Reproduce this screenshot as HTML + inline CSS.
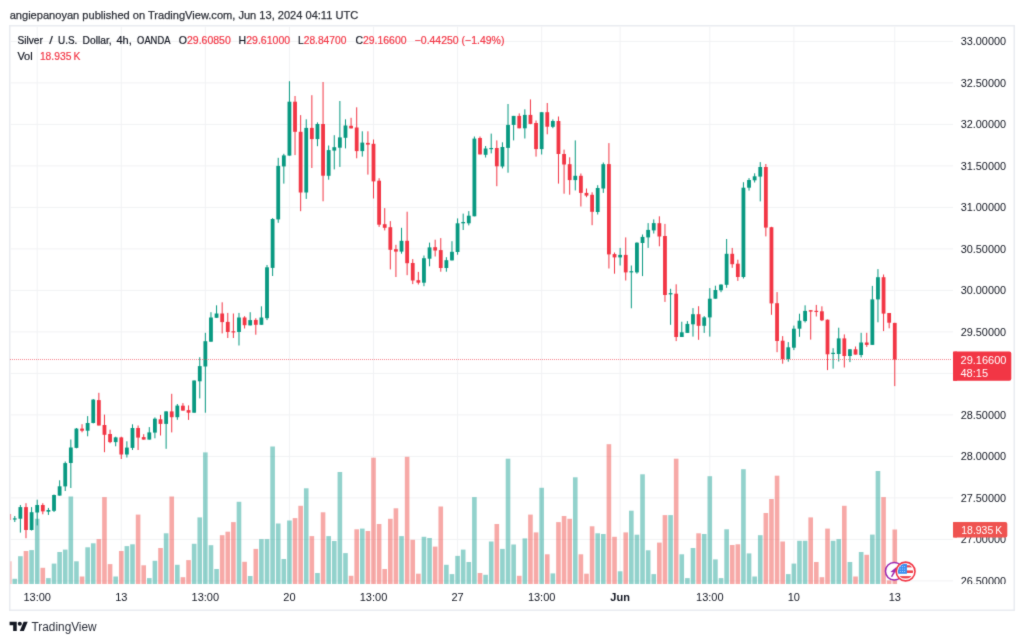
<!DOCTYPE html><html><head><meta charset="utf-8"><title>Silver / U.S. Dollar 4h chart</title>
<style>html,body{margin:0;padding:0;background:#fff;}body{width:1024px;height:643px;overflow:hidden;}svg{display:block;font-family:"Liberation Sans",Arial,sans-serif;}</style></head><body>
<svg width="1024" height="643" viewBox="0 0 1024 643">
<defs><filter id="soft" x="0" y="0" width="1" height="1" color-interpolation-filters="sRGB"><feConvolveMatrix order="3" kernelMatrix="0.0200 0.0800 0.0200 0.0800 0.6000 0.0800 0.0200 0.0800 0.0200" edgeMode="duplicate" preserveAlpha="true"/></filter></defs>
<g filter="url(#soft)">
<rect width="1024" height="643" fill="#fff"/>
<text x="9.7" y="18.9" font-size="11.5" fill="#2c2f37" stroke="#2c2f37" stroke-width="0.25" textLength="348.5" lengthAdjust="spacingAndGlyphs">angiepanoyan published on TradingView.com, Jun 13, 2024 04:11 UTC</text>
<rect x="9.75" y="25.75" width="1004.5" height="584.5" fill="none" stroke="#e9ebf0" stroke-width="1.5"/>
<defs><clipPath id="pane"><rect x="10.5" y="26.5" width="942.5" height="557.5"/></clipPath></defs>
<g stroke="#f1f2f4" stroke-width="1" fill="none">
<line x1="10.5" x2="953" y1="41.4" y2="41.4"/>
<line x1="10.5" x2="953" y1="82.9" y2="82.9"/>
<line x1="10.5" x2="953" y1="124.4" y2="124.4"/>
<line x1="10.5" x2="953" y1="165.9" y2="165.9"/>
<line x1="10.5" x2="953" y1="207.4" y2="207.4"/>
<line x1="10.5" x2="953" y1="248.9" y2="248.9"/>
<line x1="10.5" x2="953" y1="290.4" y2="290.4"/>
<line x1="10.5" x2="953" y1="331.9" y2="331.9"/>
<line x1="10.5" x2="953" y1="373.4" y2="373.4"/>
<line x1="10.5" x2="953" y1="414.9" y2="414.9"/>
<line x1="10.5" x2="953" y1="456.4" y2="456.4"/>
<line x1="10.5" x2="953" y1="497.9" y2="497.9"/>
<line x1="10.5" x2="953" y1="539.4" y2="539.4"/>
<line x1="10.5" x2="953" y1="580.9" y2="580.9"/>
<line x1="37.2" x2="37.2" y1="26.5" y2="584"/>
<line x1="121.28" x2="121.28" y1="26.5" y2="584"/>
<line x1="205.35" x2="205.35" y1="26.5" y2="584"/>
<line x1="289.43" x2="289.43" y1="26.5" y2="584"/>
<line x1="373.5" x2="373.5" y1="26.5" y2="584"/>
<line x1="457.58" x2="457.58" y1="26.5" y2="584"/>
<line x1="541.65" x2="541.65" y1="26.5" y2="584"/>
<line x1="620.12" x2="620.12" y1="26.5" y2="584"/>
<line x1="709.8" x2="709.8" y1="26.5" y2="584"/>
<line x1="793.88" x2="793.88" y1="26.5" y2="584"/>
<line x1="894.76" x2="894.76" y1="26.5" y2="584"/>
</g>
<g clip-path="url(#pane)">
<g>
<rect x="6.87" y="561.3" width="4.6" height="22.7" fill="rgba(239,83,80,0.5)"/>
<rect x="12.48" y="578.8" width="4.6" height="5.2" fill="rgba(38,166,154,0.5)"/>
<rect x="18.08" y="556.2" width="4.6" height="27.8" fill="rgba(38,166,154,0.5)"/>
<rect x="23.69" y="551" width="4.6" height="33" fill="rgba(239,83,80,0.5)"/>
<rect x="29.29" y="550.1" width="4.6" height="33.9" fill="rgba(38,166,154,0.5)"/>
<rect x="34.9" y="518.8" width="4.6" height="65.2" fill="rgba(38,166,154,0.5)"/>
<rect x="40.51" y="567.8" width="4.6" height="16.2" fill="rgba(239,83,80,0.5)"/>
<rect x="46.11" y="578.1" width="4.6" height="5.9" fill="rgba(38,166,154,0.5)"/>
<rect x="51.72" y="563.6" width="4.6" height="20.4" fill="rgba(38,166,154,0.5)"/>
<rect x="57.32" y="552" width="4.6" height="32" fill="rgba(38,166,154,0.5)"/>
<rect x="62.93" y="549.6" width="4.6" height="34.4" fill="rgba(38,166,154,0.5)"/>
<rect x="68.53" y="496.5" width="4.6" height="87.5" fill="rgba(38,166,154,0.5)"/>
<rect x="74.14" y="561.3" width="4.6" height="22.7" fill="rgba(38,166,154,0.5)"/>
<rect x="79.74" y="576.5" width="4.6" height="7.5" fill="rgba(239,83,80,0.5)"/>
<rect x="85.34" y="547.3" width="4.6" height="36.7" fill="rgba(38,166,154,0.5)"/>
<rect x="90.95" y="543.3" width="4.6" height="40.7" fill="rgba(38,166,154,0.5)"/>
<rect x="96.56" y="539.1" width="4.6" height="44.9" fill="rgba(239,83,80,0.5)"/>
<rect x="102.16" y="497.1" width="4.6" height="86.9" fill="rgba(239,83,80,0.5)"/>
<rect x="107.77" y="564.1" width="4.6" height="19.9" fill="rgba(239,83,80,0.5)"/>
<rect x="113.37" y="576.5" width="4.6" height="7.5" fill="rgba(38,166,154,0.5)"/>
<rect x="118.98" y="551" width="4.6" height="33" fill="rgba(239,83,80,0.5)"/>
<rect x="124.58" y="546.1" width="4.6" height="37.9" fill="rgba(38,166,154,0.5)"/>
<rect x="130.19" y="544.3" width="4.6" height="39.7" fill="rgba(38,166,154,0.5)"/>
<rect x="135.79" y="514.6" width="4.6" height="69.4" fill="rgba(239,83,80,0.5)"/>
<rect x="141.4" y="565.3" width="4.6" height="18.7" fill="rgba(239,83,80,0.5)"/>
<rect x="147" y="578.1" width="4.6" height="5.9" fill="rgba(38,166,154,0.5)"/>
<rect x="152.61" y="560.8" width="4.6" height="23.2" fill="rgba(38,166,154,0.5)"/>
<rect x="158.21" y="548" width="4.6" height="36" fill="rgba(239,83,80,0.5)"/>
<rect x="163.81" y="533.3" width="4.6" height="50.7" fill="rgba(38,166,154,0.5)"/>
<rect x="169.42" y="496.5" width="4.6" height="87.5" fill="rgba(239,83,80,0.5)"/>
<rect x="175.03" y="564.8" width="4.6" height="19.2" fill="rgba(38,166,154,0.5)"/>
<rect x="180.63" y="577.2" width="4.6" height="6.8" fill="rgba(239,83,80,0.5)"/>
<rect x="186.24" y="560.1" width="4.6" height="23.9" fill="rgba(239,83,80,0.5)"/>
<rect x="191.84" y="543.8" width="4.6" height="40.2" fill="rgba(38,166,154,0.5)"/>
<rect x="197.45" y="517.4" width="4.6" height="66.6" fill="rgba(38,166,154,0.5)"/>
<rect x="203.05" y="452.4" width="4.6" height="131.6" fill="rgba(38,166,154,0.5)"/>
<rect x="208.66" y="545.2" width="4.6" height="38.8" fill="rgba(38,166,154,0.5)"/>
<rect x="214.26" y="569" width="4.6" height="15" fill="rgba(38,166,154,0.5)"/>
<rect x="219.87" y="535.2" width="4.6" height="48.8" fill="rgba(239,83,80,0.5)"/>
<rect x="225.47" y="531.7" width="4.6" height="52.3" fill="rgba(239,83,80,0.5)"/>
<rect x="231.08" y="522.1" width="4.6" height="61.9" fill="rgba(239,83,80,0.5)"/>
<rect x="236.68" y="501.8" width="4.6" height="82.2" fill="rgba(38,166,154,0.5)"/>
<rect x="242.29" y="561.8" width="4.6" height="22.2" fill="rgba(239,83,80,0.5)"/>
<rect x="247.89" y="576" width="4.6" height="8" fill="rgba(38,166,154,0.5)"/>
<rect x="253.5" y="548.9" width="4.6" height="35.1" fill="rgba(239,83,80,0.5)"/>
<rect x="259.1" y="539.1" width="4.6" height="44.9" fill="rgba(38,166,154,0.5)"/>
<rect x="264.71" y="539.1" width="4.6" height="44.9" fill="rgba(38,166,154,0.5)"/>
<rect x="270.31" y="446.5" width="4.6" height="137.5" fill="rgba(38,166,154,0.5)"/>
<rect x="275.92" y="523.5" width="4.6" height="60.5" fill="rgba(38,166,154,0.5)"/>
<rect x="281.52" y="559" width="4.6" height="25" fill="rgba(38,166,154,0.5)"/>
<rect x="287.12" y="520.5" width="4.6" height="63.5" fill="rgba(38,166,154,0.5)"/>
<rect x="292.73" y="518.1" width="4.6" height="65.9" fill="rgba(239,83,80,0.5)"/>
<rect x="298.34" y="505.8" width="4.6" height="78.2" fill="rgba(239,83,80,0.5)"/>
<rect x="303.94" y="488.3" width="4.6" height="95.7" fill="rgba(38,166,154,0.5)"/>
<rect x="309.55" y="536.1" width="4.6" height="47.9" fill="rgba(239,83,80,0.5)"/>
<rect x="315.15" y="573" width="4.6" height="11" fill="rgba(38,166,154,0.5)"/>
<rect x="320.75" y="512.3" width="4.6" height="71.7" fill="rgba(239,83,80,0.5)"/>
<rect x="326.36" y="536.1" width="4.6" height="47.9" fill="rgba(38,166,154,0.5)"/>
<rect x="331.97" y="541" width="4.6" height="43" fill="rgba(38,166,154,0.5)"/>
<rect x="337.57" y="472" width="4.6" height="112" fill="rgba(38,166,154,0.5)"/>
<rect x="343.18" y="553.1" width="4.6" height="30.9" fill="rgba(38,166,154,0.5)"/>
<rect x="348.78" y="575.8" width="4.6" height="8.2" fill="rgba(239,83,80,0.5)"/>
<rect x="354.39" y="529.3" width="4.6" height="54.7" fill="rgba(239,83,80,0.5)"/>
<rect x="359.99" y="528.6" width="4.6" height="55.4" fill="rgba(38,166,154,0.5)"/>
<rect x="365.6" y="531" width="4.6" height="53" fill="rgba(239,83,80,0.5)"/>
<rect x="371.2" y="457.7" width="4.6" height="126.3" fill="rgba(239,83,80,0.5)"/>
<rect x="376.81" y="524" width="4.6" height="60" fill="rgba(239,83,80,0.5)"/>
<rect x="382.41" y="569" width="4.6" height="15" fill="rgba(239,83,80,0.5)"/>
<rect x="388.02" y="518.8" width="4.6" height="65.2" fill="rgba(239,83,80,0.5)"/>
<rect x="393.62" y="508.3" width="4.6" height="75.7" fill="rgba(239,83,80,0.5)"/>
<rect x="399.23" y="536.1" width="4.6" height="47.9" fill="rgba(38,166,154,0.5)"/>
<rect x="404.83" y="456.8" width="4.6" height="127.2" fill="rgba(239,83,80,0.5)"/>
<rect x="410.44" y="539.8" width="4.6" height="44.2" fill="rgba(239,83,80,0.5)"/>
<rect x="416.04" y="573.7" width="4.6" height="10.3" fill="rgba(239,83,80,0.5)"/>
<rect x="421.65" y="536.8" width="4.6" height="47.2" fill="rgba(38,166,154,0.5)"/>
<rect x="427.25" y="538" width="4.6" height="46" fill="rgba(38,166,154,0.5)"/>
<rect x="432.86" y="546.6" width="4.6" height="37.4" fill="rgba(239,83,80,0.5)"/>
<rect x="438.46" y="506.5" width="4.6" height="77.5" fill="rgba(239,83,80,0.5)"/>
<rect x="444.07" y="564.8" width="4.6" height="19.2" fill="rgba(38,166,154,0.5)"/>
<rect x="449.67" y="574.1" width="4.6" height="9.9" fill="rgba(38,166,154,0.5)"/>
<rect x="455.28" y="555.9" width="4.6" height="28.1" fill="rgba(38,166,154,0.5)"/>
<rect x="460.88" y="549.6" width="4.6" height="34.4" fill="rgba(38,166,154,0.5)"/>
<rect x="466.49" y="562" width="4.6" height="22" fill="rgba(38,166,154,0.5)"/>
<rect x="472.09" y="497.1" width="4.6" height="86.9" fill="rgba(38,166,154,0.5)"/>
<rect x="477.7" y="573" width="4.6" height="11" fill="rgba(239,83,80,0.5)"/>
<rect x="483.3" y="574.8" width="4.6" height="9.2" fill="rgba(38,166,154,0.5)"/>
<rect x="488.91" y="541.5" width="4.6" height="42.5" fill="rgba(38,166,154,0.5)"/>
<rect x="494.51" y="524" width="4.6" height="60" fill="rgba(239,83,80,0.5)"/>
<rect x="500.12" y="548.9" width="4.6" height="35.1" fill="rgba(38,166,154,0.5)"/>
<rect x="505.72" y="458.7" width="4.6" height="125.3" fill="rgba(38,166,154,0.5)"/>
<rect x="511.32" y="544.5" width="4.6" height="39.5" fill="rgba(38,166,154,0.5)"/>
<rect x="516.93" y="575.8" width="4.6" height="8.2" fill="rgba(239,83,80,0.5)"/>
<rect x="522.54" y="538.4" width="4.6" height="45.6" fill="rgba(38,166,154,0.5)"/>
<rect x="528.14" y="514.6" width="4.6" height="69.4" fill="rgba(239,83,80,0.5)"/>
<rect x="533.75" y="532.4" width="4.6" height="51.6" fill="rgba(239,83,80,0.5)"/>
<rect x="539.35" y="487.8" width="4.6" height="96.2" fill="rgba(38,166,154,0.5)"/>
<rect x="544.96" y="554.3" width="4.6" height="29.7" fill="rgba(239,83,80,0.5)"/>
<rect x="550.56" y="573.4" width="4.6" height="10.6" fill="rgba(38,166,154,0.5)"/>
<rect x="556.17" y="522.1" width="4.6" height="61.9" fill="rgba(239,83,80,0.5)"/>
<rect x="561.77" y="516" width="4.6" height="68" fill="rgba(239,83,80,0.5)"/>
<rect x="567.38" y="518.8" width="4.6" height="65.2" fill="rgba(239,83,80,0.5)"/>
<rect x="572.98" y="477.3" width="4.6" height="106.7" fill="rgba(38,166,154,0.5)"/>
<rect x="578.59" y="554.3" width="4.6" height="29.7" fill="rgba(239,83,80,0.5)"/>
<rect x="584.19" y="573.7" width="4.6" height="10.3" fill="rgba(239,83,80,0.5)"/>
<rect x="589.8" y="526.3" width="4.6" height="57.7" fill="rgba(239,83,80,0.5)"/>
<rect x="595.4" y="533.3" width="4.6" height="50.7" fill="rgba(38,166,154,0.5)"/>
<rect x="601" y="534" width="4.6" height="50" fill="rgba(38,166,154,0.5)"/>
<rect x="606.61" y="444.2" width="4.6" height="139.8" fill="rgba(239,83,80,0.5)"/>
<rect x="612.22" y="536.8" width="4.6" height="47.2" fill="rgba(239,83,80,0.5)"/>
<rect x="617.82" y="571.3" width="4.6" height="12.7" fill="rgba(38,166,154,0.5)"/>
<rect x="623.43" y="532.4" width="4.6" height="51.6" fill="rgba(239,83,80,0.5)"/>
<rect x="629.03" y="510.7" width="4.6" height="73.3" fill="rgba(38,166,154,0.5)"/>
<rect x="634.63" y="534.7" width="4.6" height="49.3" fill="rgba(38,166,154,0.5)"/>
<rect x="640.24" y="474.3" width="4.6" height="109.7" fill="rgba(38,166,154,0.5)"/>
<rect x="645.85" y="550.3" width="4.6" height="33.7" fill="rgba(38,166,154,0.5)"/>
<rect x="651.45" y="574.1" width="4.6" height="9.9" fill="rgba(38,166,154,0.5)"/>
<rect x="657.06" y="542.6" width="4.6" height="41.4" fill="rgba(239,83,80,0.5)"/>
<rect x="662.66" y="515.1" width="4.6" height="68.9" fill="rgba(239,83,80,0.5)"/>
<rect x="668.27" y="515.1" width="4.6" height="68.9" fill="rgba(38,166,154,0.5)"/>
<rect x="673.87" y="458.7" width="4.6" height="125.3" fill="rgba(239,83,80,0.5)"/>
<rect x="679.48" y="554.3" width="4.6" height="29.7" fill="rgba(38,166,154,0.5)"/>
<rect x="685.08" y="578.1" width="4.6" height="5.9" fill="rgba(38,166,154,0.5)"/>
<rect x="690.69" y="548" width="4.6" height="36" fill="rgba(38,166,154,0.5)"/>
<rect x="696.29" y="533.3" width="4.6" height="50.7" fill="rgba(239,83,80,0.5)"/>
<rect x="701.9" y="534" width="4.6" height="50" fill="rgba(38,166,154,0.5)"/>
<rect x="707.5" y="476.2" width="4.6" height="107.8" fill="rgba(38,166,154,0.5)"/>
<rect x="713.11" y="559.4" width="4.6" height="24.6" fill="rgba(38,166,154,0.5)"/>
<rect x="718.71" y="578.1" width="4.6" height="5.9" fill="rgba(38,166,154,0.5)"/>
<rect x="724.32" y="529.3" width="4.6" height="54.7" fill="rgba(38,166,154,0.5)"/>
<rect x="729.92" y="545" width="4.6" height="39" fill="rgba(239,83,80,0.5)"/>
<rect x="735.53" y="544.3" width="4.6" height="39.7" fill="rgba(239,83,80,0.5)"/>
<rect x="741.13" y="469.2" width="4.6" height="114.8" fill="rgba(38,166,154,0.5)"/>
<rect x="746.74" y="553.4" width="4.6" height="30.6" fill="rgba(38,166,154,0.5)"/>
<rect x="752.34" y="576.5" width="4.6" height="7.5" fill="rgba(38,166,154,0.5)"/>
<rect x="757.95" y="535.2" width="4.6" height="48.8" fill="rgba(38,166,154,0.5)"/>
<rect x="763.55" y="513" width="4.6" height="71" fill="rgba(239,83,80,0.5)"/>
<rect x="769.16" y="499" width="4.6" height="85" fill="rgba(239,83,80,0.5)"/>
<rect x="774.76" y="475.7" width="4.6" height="108.3" fill="rgba(239,83,80,0.5)"/>
<rect x="780.37" y="541.5" width="4.6" height="42.5" fill="rgba(239,83,80,0.5)"/>
<rect x="785.97" y="574.1" width="4.6" height="9.9" fill="rgba(38,166,154,0.5)"/>
<rect x="791.58" y="563.6" width="4.6" height="20.4" fill="rgba(38,166,154,0.5)"/>
<rect x="797.18" y="540.8" width="4.6" height="43.2" fill="rgba(38,166,154,0.5)"/>
<rect x="802.79" y="540.8" width="4.6" height="43.2" fill="rgba(38,166,154,0.5)"/>
<rect x="808.39" y="517.4" width="4.6" height="66.6" fill="rgba(239,83,80,0.5)"/>
<rect x="814" y="562" width="4.6" height="22" fill="rgba(239,83,80,0.5)"/>
<rect x="819.6" y="577.2" width="4.6" height="6.8" fill="rgba(239,83,80,0.5)"/>
<rect x="825.21" y="528.6" width="4.6" height="55.4" fill="rgba(239,83,80,0.5)"/>
<rect x="830.81" y="540.8" width="4.6" height="43.2" fill="rgba(38,166,154,0.5)"/>
<rect x="836.42" y="539.1" width="4.6" height="44.9" fill="rgba(38,166,154,0.5)"/>
<rect x="842.02" y="505.8" width="4.6" height="78.2" fill="rgba(239,83,80,0.5)"/>
<rect x="847.63" y="562" width="4.6" height="22" fill="rgba(38,166,154,0.5)"/>
<rect x="853.23" y="576.5" width="4.6" height="7.5" fill="rgba(239,83,80,0.5)"/>
<rect x="858.84" y="552" width="4.6" height="32" fill="rgba(38,166,154,0.5)"/>
<rect x="864.44" y="554.8" width="4.6" height="29.2" fill="rgba(239,83,80,0.5)"/>
<rect x="870.05" y="534.6" width="4.6" height="49.4" fill="rgba(38,166,154,0.5)"/>
<rect x="875.65" y="471" width="4.6" height="113" fill="rgba(38,166,154,0.5)"/>
<rect x="881.26" y="497.1" width="4.6" height="86.9" fill="rgba(239,83,80,0.5)"/>
<rect x="886.86" y="580.4" width="4.6" height="3.6" fill="rgba(239,83,80,0.5)"/>
<rect x="892.47" y="529.5" width="4.6" height="54.5" fill="rgba(239,83,80,0.5)"/>
</g>
<rect x="8.67" y="513" width="1" height="8" fill="#f23645"/>
<rect x="7.27" y="514" width="3.8" height="6" fill="#f23645"/>
<rect x="14.28" y="516" width="1" height="6" fill="#089981"/>
<rect x="12.88" y="518.35" width="3.8" height="1.2" fill="#089981"/>
<rect x="19.88" y="505" width="1" height="27.6" fill="#089981"/>
<rect x="18.48" y="507.1" width="3.8" height="11.6" fill="#089981"/>
<rect x="25.49" y="503.2" width="1" height="35" fill="#f23645"/>
<rect x="24.09" y="507.1" width="3.8" height="22.9" fill="#f23645"/>
<rect x="31.09" y="507.1" width="1" height="23.4" fill="#089981"/>
<rect x="29.7" y="512.2" width="3.8" height="17.8" fill="#089981"/>
<rect x="36.7" y="499.7" width="1" height="25.7" fill="#089981"/>
<rect x="35.3" y="505" width="3.8" height="7.5" fill="#089981"/>
<rect x="42.3" y="503.2" width="1" height="11.1" fill="#f23645"/>
<rect x="40.91" y="505" width="3.8" height="6.4" fill="#f23645"/>
<rect x="47.91" y="507.9" width="1" height="7" fill="#089981"/>
<rect x="46.51" y="510" width="3.8" height="1.7" fill="#089981"/>
<rect x="53.52" y="494.5" width="1" height="17.5" fill="#089981"/>
<rect x="52.12" y="495" width="3.8" height="15.8" fill="#089981"/>
<rect x="59.12" y="480.3" width="1" height="15.3" fill="#089981"/>
<rect x="57.72" y="486.3" width="3.8" height="9.3" fill="#089981"/>
<rect x="64.73" y="461.5" width="1" height="29.5" fill="#089981"/>
<rect x="63.33" y="463.1" width="3.8" height="23.3" fill="#089981"/>
<rect x="70.33" y="439.5" width="1" height="48.5" fill="#089981"/>
<rect x="68.93" y="447.5" width="3.8" height="15.5" fill="#089981"/>
<rect x="75.94" y="428" width="1" height="20.3" fill="#089981"/>
<rect x="74.53" y="428.6" width="3.8" height="19.3" fill="#089981"/>
<rect x="81.54" y="424.2" width="1" height="8.1" fill="#f23645"/>
<rect x="80.14" y="428.6" width="3.8" height="2.1" fill="#f23645"/>
<rect x="87.14" y="416.1" width="1" height="20.2" fill="#089981"/>
<rect x="85.74" y="423" width="3.8" height="7.7" fill="#089981"/>
<rect x="92.75" y="399" width="1" height="24.4" fill="#089981"/>
<rect x="91.35" y="399.6" width="3.8" height="23.4" fill="#089981"/>
<rect x="98.36" y="392.8" width="1" height="32.7" fill="#f23645"/>
<rect x="96.95" y="400.1" width="3.8" height="25.4" fill="#f23645"/>
<rect x="103.96" y="414.6" width="1" height="37.6" fill="#f23645"/>
<rect x="102.56" y="425" width="3.8" height="9.8" fill="#f23645"/>
<rect x="109.57" y="429.7" width="1" height="13.5" fill="#f23645"/>
<rect x="108.17" y="434" width="3.8" height="8.1" fill="#f23645"/>
<rect x="115.17" y="436.7" width="1" height="9.6" fill="#089981"/>
<rect x="113.77" y="437.4" width="3.8" height="4.7" fill="#089981"/>
<rect x="120.78" y="436.7" width="1" height="22.3" fill="#f23645"/>
<rect x="119.38" y="437.4" width="3.8" height="17.1" fill="#f23645"/>
<rect x="126.38" y="441.3" width="1" height="16.2" fill="#089981"/>
<rect x="124.98" y="447.6" width="3.8" height="6.9" fill="#089981"/>
<rect x="131.99" y="424.3" width="1" height="25.7" fill="#089981"/>
<rect x="130.59" y="428" width="3.8" height="19.9" fill="#089981"/>
<rect x="137.59" y="425.5" width="1" height="24.5" fill="#f23645"/>
<rect x="136.19" y="428" width="3.8" height="9.6" fill="#f23645"/>
<rect x="143.2" y="434.2" width="1" height="5.4" fill="#f23645"/>
<rect x="141.8" y="437.1" width="3.8" height="2.5" fill="#f23645"/>
<rect x="148.8" y="427.1" width="1" height="12.5" fill="#089981"/>
<rect x="147.4" y="432.4" width="3.8" height="7.2" fill="#089981"/>
<rect x="154.41" y="417.4" width="1" height="20.9" fill="#089981"/>
<rect x="153.01" y="418.7" width="3.8" height="13.9" fill="#089981"/>
<rect x="160.01" y="414.9" width="1" height="20.6" fill="#f23645"/>
<rect x="158.61" y="419.3" width="3.8" height="4.6" fill="#f23645"/>
<rect x="165.62" y="411.2" width="1" height="37.6" fill="#089981"/>
<rect x="164.22" y="411.4" width="3.8" height="12.5" fill="#089981"/>
<rect x="171.22" y="393.8" width="1" height="38.6" fill="#f23645"/>
<rect x="169.82" y="411.4" width="3.8" height="5.8" fill="#f23645"/>
<rect x="176.83" y="404" width="1" height="15.8" fill="#089981"/>
<rect x="175.43" y="405.6" width="3.8" height="11.6" fill="#089981"/>
<rect x="182.43" y="403.1" width="1" height="7.5" fill="#f23645"/>
<rect x="181.03" y="405.7" width="3.8" height="4.9" fill="#f23645"/>
<rect x="188.04" y="405.4" width="1" height="14.5" fill="#f23645"/>
<rect x="186.64" y="410.1" width="3.8" height="2.6" fill="#f23645"/>
<rect x="193.64" y="380.5" width="1" height="32.2" fill="#089981"/>
<rect x="192.24" y="380.5" width="3.8" height="32.2" fill="#089981"/>
<rect x="199.25" y="357.2" width="1" height="41.2" fill="#089981"/>
<rect x="197.85" y="366.1" width="3.8" height="15.2" fill="#089981"/>
<rect x="204.85" y="332.8" width="1" height="79.9" fill="#089981"/>
<rect x="203.45" y="341.2" width="3.8" height="25.3" fill="#089981"/>
<rect x="210.46" y="312.2" width="1" height="29.5" fill="#089981"/>
<rect x="209.06" y="317.5" width="3.8" height="24.2" fill="#089981"/>
<rect x="216.06" y="305.3" width="1" height="12.5" fill="#089981"/>
<rect x="214.66" y="313.5" width="3.8" height="4.3" fill="#089981"/>
<rect x="221.67" y="302.3" width="1" height="31.1" fill="#f23645"/>
<rect x="220.27" y="313.5" width="3.8" height="8.6" fill="#f23645"/>
<rect x="227.27" y="312.9" width="1" height="25.1" fill="#f23645"/>
<rect x="225.87" y="321.9" width="3.8" height="10.1" fill="#f23645"/>
<rect x="232.88" y="313.5" width="1" height="24.5" fill="#f23645"/>
<rect x="231.48" y="331.25" width="3.8" height="1.2" fill="#f23645"/>
<rect x="238.48" y="312.9" width="1" height="32.6" fill="#089981"/>
<rect x="237.08" y="317.5" width="3.8" height="14.5" fill="#089981"/>
<rect x="244.09" y="316.2" width="1" height="12.3" fill="#f23645"/>
<rect x="242.69" y="317.5" width="3.8" height="7.7" fill="#f23645"/>
<rect x="249.69" y="312.2" width="1" height="13.2" fill="#089981"/>
<rect x="248.29" y="320.1" width="3.8" height="5.3" fill="#089981"/>
<rect x="255.3" y="318.2" width="1" height="16.5" fill="#f23645"/>
<rect x="253.9" y="319.9" width="3.8" height="4.9" fill="#f23645"/>
<rect x="260.9" y="306.3" width="1" height="18.5" fill="#089981"/>
<rect x="259.5" y="317.5" width="3.8" height="7.3" fill="#089981"/>
<rect x="266.51" y="265" width="1" height="55.1" fill="#089981"/>
<rect x="265.11" y="267.3" width="3.8" height="50.9" fill="#089981"/>
<rect x="272.11" y="218.1" width="1" height="57.9" fill="#089981"/>
<rect x="270.71" y="219" width="3.8" height="48.9" fill="#089981"/>
<rect x="277.72" y="157.8" width="1" height="65" fill="#089981"/>
<rect x="276.32" y="165.9" width="3.8" height="53.5" fill="#089981"/>
<rect x="283.32" y="153.8" width="1" height="29.8" fill="#089981"/>
<rect x="281.92" y="155.4" width="3.8" height="11" fill="#089981"/>
<rect x="288.93" y="81.2" width="1" height="74.4" fill="#089981"/>
<rect x="287.53" y="101.7" width="3.8" height="53.9" fill="#089981"/>
<rect x="294.53" y="96" width="1" height="59.1" fill="#f23645"/>
<rect x="293.13" y="101.7" width="3.8" height="30.1" fill="#f23645"/>
<rect x="300.14" y="115.1" width="1" height="96.1" fill="#f23645"/>
<rect x="298.74" y="131.8" width="3.8" height="60.7" fill="#f23645"/>
<rect x="305.74" y="119.3" width="1" height="79.6" fill="#089981"/>
<rect x="304.34" y="127.9" width="3.8" height="64.6" fill="#089981"/>
<rect x="311.35" y="95.2" width="1" height="72.8" fill="#f23645"/>
<rect x="309.95" y="127.9" width="3.8" height="11.2" fill="#f23645"/>
<rect x="316.95" y="122.4" width="1" height="23.8" fill="#089981"/>
<rect x="315.55" y="124" width="3.8" height="15.1" fill="#089981"/>
<rect x="322.56" y="82" width="1" height="119.3" fill="#f23645"/>
<rect x="321.16" y="124" width="3.8" height="51.7" fill="#f23645"/>
<rect x="328.16" y="145.5" width="1" height="34.2" fill="#089981"/>
<rect x="326.76" y="150.1" width="3.8" height="25.7" fill="#089981"/>
<rect x="333.77" y="135.2" width="1" height="34.2" fill="#089981"/>
<rect x="332.37" y="147.2" width="3.8" height="3.4" fill="#089981"/>
<rect x="339.37" y="101" width="1" height="65.9" fill="#089981"/>
<rect x="337.97" y="137.4" width="3.8" height="10.3" fill="#089981"/>
<rect x="344.98" y="119.3" width="1" height="29.1" fill="#089981"/>
<rect x="343.58" y="125.5" width="3.8" height="12.3" fill="#089981"/>
<rect x="350.58" y="117.8" width="1" height="10.6" fill="#f23645"/>
<rect x="349.18" y="125.8" width="3.8" height="2.6" fill="#f23645"/>
<rect x="356.19" y="107.3" width="1" height="51" fill="#f23645"/>
<rect x="354.79" y="127.5" width="3.8" height="23.6" fill="#f23645"/>
<rect x="361.79" y="131.3" width="1" height="25.3" fill="#089981"/>
<rect x="360.39" y="142.6" width="3.8" height="8.5" fill="#089981"/>
<rect x="367.4" y="131.3" width="1" height="43.3" fill="#f23645"/>
<rect x="366" y="142.9" width="3.8" height="1.7" fill="#f23645"/>
<rect x="373" y="139.5" width="1" height="59" fill="#f23645"/>
<rect x="371.6" y="143.8" width="3.8" height="37.6" fill="#f23645"/>
<rect x="378.61" y="178.2" width="1" height="48.7" fill="#f23645"/>
<rect x="377.21" y="180.7" width="3.8" height="44" fill="#f23645"/>
<rect x="384.21" y="208.1" width="1" height="22.3" fill="#f23645"/>
<rect x="382.81" y="224.2" width="3.8" height="3.6" fill="#f23645"/>
<rect x="389.82" y="221.1" width="1" height="48.3" fill="#f23645"/>
<rect x="388.42" y="227.2" width="3.8" height="22.6" fill="#f23645"/>
<rect x="395.42" y="244.8" width="1" height="32.2" fill="#f23645"/>
<rect x="394.02" y="249.2" width="3.8" height="2.4" fill="#f23645"/>
<rect x="401.03" y="227.8" width="1" height="25.9" fill="#089981"/>
<rect x="399.63" y="240.8" width="3.8" height="10.8" fill="#089981"/>
<rect x="406.63" y="211.7" width="1" height="63.5" fill="#f23645"/>
<rect x="405.23" y="240.8" width="3.8" height="22.4" fill="#f23645"/>
<rect x="412.24" y="259.1" width="1" height="25" fill="#f23645"/>
<rect x="410.84" y="263" width="3.8" height="17.5" fill="#f23645"/>
<rect x="417.84" y="271.9" width="1" height="12.6" fill="#f23645"/>
<rect x="416.44" y="280.2" width="3.8" height="2.5" fill="#f23645"/>
<rect x="423.45" y="255.5" width="1" height="30.7" fill="#089981"/>
<rect x="422.05" y="258.2" width="3.8" height="24.5" fill="#089981"/>
<rect x="429.05" y="242.6" width="1" height="23.7" fill="#089981"/>
<rect x="427.65" y="247.4" width="3.8" height="11.3" fill="#089981"/>
<rect x="434.66" y="239.7" width="1" height="16.8" fill="#f23645"/>
<rect x="433.26" y="247.2" width="3.8" height="3.3" fill="#f23645"/>
<rect x="440.26" y="238.1" width="1" height="33.6" fill="#f23645"/>
<rect x="438.86" y="250.1" width="3.8" height="17.9" fill="#f23645"/>
<rect x="445.87" y="257.2" width="1" height="14.5" fill="#089981"/>
<rect x="444.47" y="260.2" width="3.8" height="7.8" fill="#089981"/>
<rect x="451.47" y="241.2" width="1" height="19.2" fill="#089981"/>
<rect x="450.07" y="251.8" width="3.8" height="8.6" fill="#089981"/>
<rect x="457.08" y="218.4" width="1" height="36.3" fill="#089981"/>
<rect x="455.68" y="223.3" width="3.8" height="28.7" fill="#089981"/>
<rect x="462.68" y="213.6" width="1" height="16.4" fill="#089981"/>
<rect x="461.28" y="222" width="3.8" height="1.3" fill="#089981"/>
<rect x="468.29" y="211.1" width="1" height="14.3" fill="#089981"/>
<rect x="466.89" y="215.7" width="3.8" height="7.6" fill="#089981"/>
<rect x="473.89" y="136.5" width="1" height="79.8" fill="#089981"/>
<rect x="472.49" y="138.6" width="3.8" height="77.7" fill="#089981"/>
<rect x="479.5" y="136.5" width="1" height="17.9" fill="#f23645"/>
<rect x="478.1" y="138" width="3.8" height="16.4" fill="#f23645"/>
<rect x="485.1" y="146" width="1" height="11.5" fill="#089981"/>
<rect x="483.7" y="148.5" width="3.8" height="6.3" fill="#089981"/>
<rect x="490.71" y="133.6" width="1" height="19.8" fill="#089981"/>
<rect x="489.31" y="148" width="3.8" height="1.2" fill="#089981"/>
<rect x="496.31" y="140.4" width="1" height="45.8" fill="#f23645"/>
<rect x="494.91" y="148" width="3.8" height="18.3" fill="#f23645"/>
<rect x="501.92" y="142.3" width="1" height="26.1" fill="#089981"/>
<rect x="500.52" y="147" width="3.8" height="19.5" fill="#089981"/>
<rect x="507.52" y="104" width="1" height="68.7" fill="#089981"/>
<rect x="506.12" y="124.9" width="3.8" height="23" fill="#089981"/>
<rect x="513.12" y="115.9" width="1" height="24.5" fill="#089981"/>
<rect x="511.73" y="115.9" width="3.8" height="9" fill="#089981"/>
<rect x="518.73" y="113.4" width="1" height="14.9" fill="#f23645"/>
<rect x="517.33" y="115.9" width="3.8" height="12.4" fill="#f23645"/>
<rect x="524.34" y="109.3" width="1" height="29.2" fill="#089981"/>
<rect x="522.94" y="114.9" width="3.8" height="13.4" fill="#089981"/>
<rect x="529.94" y="99.4" width="1" height="24.8" fill="#f23645"/>
<rect x="528.54" y="114.9" width="3.8" height="9" fill="#f23645"/>
<rect x="535.54" y="120.5" width="1" height="36.1" fill="#f23645"/>
<rect x="534.14" y="123" width="3.8" height="26.1" fill="#f23645"/>
<rect x="541.15" y="112.2" width="1" height="42.3" fill="#089981"/>
<rect x="539.75" y="112.2" width="3.8" height="36.9" fill="#089981"/>
<rect x="546.75" y="103" width="1" height="31.3" fill="#f23645"/>
<rect x="545.36" y="112.2" width="3.8" height="14.5" fill="#f23645"/>
<rect x="552.36" y="119.4" width="1" height="8.8" fill="#089981"/>
<rect x="550.96" y="121" width="3.8" height="5.8" fill="#089981"/>
<rect x="557.97" y="116.5" width="1" height="67.1" fill="#f23645"/>
<rect x="556.57" y="121" width="3.8" height="33" fill="#f23645"/>
<rect x="563.57" y="149.6" width="1" height="44.1" fill="#f23645"/>
<rect x="562.17" y="154" width="3.8" height="10.5" fill="#f23645"/>
<rect x="569.17" y="157.3" width="1" height="37.4" fill="#f23645"/>
<rect x="567.77" y="164.2" width="3.8" height="15.9" fill="#f23645"/>
<rect x="574.78" y="140.4" width="1" height="50" fill="#089981"/>
<rect x="573.38" y="175.8" width="3.8" height="4.3" fill="#089981"/>
<rect x="580.38" y="173.5" width="1" height="33" fill="#f23645"/>
<rect x="578.99" y="175.8" width="3.8" height="17.1" fill="#f23645"/>
<rect x="585.99" y="188.5" width="1" height="8.7" fill="#f23645"/>
<rect x="584.59" y="192.9" width="3.8" height="2.7" fill="#f23645"/>
<rect x="591.6" y="192.3" width="1" height="32.9" fill="#f23645"/>
<rect x="590.2" y="194.8" width="3.8" height="17" fill="#f23645"/>
<rect x="597.2" y="185.2" width="1" height="29.3" fill="#089981"/>
<rect x="595.8" y="188" width="3.8" height="24" fill="#089981"/>
<rect x="602.8" y="162.5" width="1" height="30.4" fill="#089981"/>
<rect x="601.4" y="164.2" width="3.8" height="24.3" fill="#089981"/>
<rect x="608.41" y="143.1" width="1" height="125.4" fill="#f23645"/>
<rect x="607.01" y="164.1" width="3.8" height="90.3" fill="#f23645"/>
<rect x="614.01" y="252.5" width="1" height="21.2" fill="#f23645"/>
<rect x="612.62" y="254.1" width="3.8" height="3.3" fill="#f23645"/>
<rect x="619.62" y="247.9" width="1" height="17.6" fill="#089981"/>
<rect x="618.22" y="254.9" width="3.8" height="2.5" fill="#089981"/>
<rect x="625.23" y="237.4" width="1" height="43.1" fill="#f23645"/>
<rect x="623.83" y="254.9" width="3.8" height="17.5" fill="#f23645"/>
<rect x="630.83" y="265.5" width="1" height="42.8" fill="#089981"/>
<rect x="629.43" y="271.2" width="3.8" height="1.2" fill="#089981"/>
<rect x="636.43" y="242.3" width="1" height="31.4" fill="#089981"/>
<rect x="635.03" y="242.7" width="3.8" height="29.7" fill="#089981"/>
<rect x="642.04" y="234.5" width="1" height="41.6" fill="#089981"/>
<rect x="640.64" y="236.9" width="3.8" height="6.1" fill="#089981"/>
<rect x="647.64" y="223.1" width="1" height="24.8" fill="#089981"/>
<rect x="646.25" y="229.9" width="3.8" height="7.5" fill="#089981"/>
<rect x="653.25" y="219.4" width="1" height="14.1" fill="#089981"/>
<rect x="651.85" y="223.1" width="3.8" height="7.3" fill="#089981"/>
<rect x="658.86" y="216.3" width="1" height="30" fill="#f23645"/>
<rect x="657.46" y="223.2" width="3.8" height="13.3" fill="#f23645"/>
<rect x="664.46" y="223.9" width="1" height="78" fill="#f23645"/>
<rect x="663.06" y="236" width="3.8" height="59" fill="#f23645"/>
<rect x="670.07" y="288.8" width="1" height="36" fill="#089981"/>
<rect x="668.67" y="293.1" width="3.8" height="1.3" fill="#089981"/>
<rect x="675.67" y="284.3" width="1" height="56.8" fill="#f23645"/>
<rect x="674.27" y="293.7" width="3.8" height="43.3" fill="#f23645"/>
<rect x="681.27" y="321.7" width="1" height="15.3" fill="#089981"/>
<rect x="679.88" y="332.3" width="3.8" height="4.7" fill="#089981"/>
<rect x="686.88" y="321.1" width="1" height="11.8" fill="#089981"/>
<rect x="685.48" y="323.9" width="3.8" height="9" fill="#089981"/>
<rect x="692.49" y="308.1" width="1" height="28.5" fill="#089981"/>
<rect x="691.09" y="314.2" width="3.8" height="10.1" fill="#089981"/>
<rect x="698.09" y="306.2" width="1" height="33.6" fill="#f23645"/>
<rect x="696.69" y="314.2" width="3.8" height="11.6" fill="#f23645"/>
<rect x="703.7" y="316.1" width="1" height="16.8" fill="#089981"/>
<rect x="702.3" y="317.4" width="3.8" height="8.4" fill="#089981"/>
<rect x="709.3" y="288.1" width="1" height="48.5" fill="#089981"/>
<rect x="707.9" y="298.7" width="3.8" height="18.7" fill="#089981"/>
<rect x="714.9" y="285.7" width="1" height="13" fill="#089981"/>
<rect x="713.5" y="290" width="3.8" height="8.7" fill="#089981"/>
<rect x="720.51" y="284.3" width="1" height="7.9" fill="#089981"/>
<rect x="719.11" y="284.6" width="3.8" height="5.7" fill="#089981"/>
<rect x="726.12" y="239" width="1" height="48.8" fill="#089981"/>
<rect x="724.72" y="253.8" width="3.8" height="31" fill="#089981"/>
<rect x="731.72" y="247.9" width="1" height="19.9" fill="#f23645"/>
<rect x="730.32" y="253.8" width="3.8" height="10.4" fill="#f23645"/>
<rect x="737.33" y="259.7" width="1" height="21.2" fill="#f23645"/>
<rect x="735.93" y="263.7" width="3.8" height="13.3" fill="#f23645"/>
<rect x="742.93" y="182.2" width="1" height="96.3" fill="#089981"/>
<rect x="741.53" y="187.7" width="3.8" height="89.3" fill="#089981"/>
<rect x="748.53" y="178.1" width="1" height="12.5" fill="#089981"/>
<rect x="747.13" y="180" width="3.8" height="7.7" fill="#089981"/>
<rect x="754.14" y="173.3" width="1" height="9.2" fill="#089981"/>
<rect x="752.74" y="176.3" width="3.8" height="4" fill="#089981"/>
<rect x="759.75" y="162.1" width="1" height="39.3" fill="#089981"/>
<rect x="758.35" y="167" width="3.8" height="9.6" fill="#089981"/>
<rect x="765.35" y="164" width="1" height="72.4" fill="#f23645"/>
<rect x="763.95" y="167" width="3.8" height="60.6" fill="#f23645"/>
<rect x="770.96" y="226.8" width="1" height="88" fill="#f23645"/>
<rect x="769.56" y="227.2" width="3.8" height="76.2" fill="#f23645"/>
<rect x="776.56" y="292.1" width="1" height="60.1" fill="#f23645"/>
<rect x="775.16" y="303.2" width="3.8" height="37.8" fill="#f23645"/>
<rect x="782.16" y="336.1" width="1" height="27.6" fill="#f23645"/>
<rect x="780.76" y="340.7" width="3.8" height="18.5" fill="#f23645"/>
<rect x="787.77" y="342.1" width="1" height="19.6" fill="#089981"/>
<rect x="786.37" y="347.3" width="3.8" height="11.9" fill="#089981"/>
<rect x="793.38" y="325.6" width="1" height="24.5" fill="#089981"/>
<rect x="791.98" y="328.7" width="3.8" height="19" fill="#089981"/>
<rect x="798.98" y="313.7" width="1" height="23.1" fill="#089981"/>
<rect x="797.58" y="320.7" width="3.8" height="8" fill="#089981"/>
<rect x="804.59" y="305.3" width="1" height="17.2" fill="#089981"/>
<rect x="803.19" y="310.9" width="3.8" height="10.2" fill="#089981"/>
<rect x="810.19" y="310" width="1" height="29.6" fill="#f23645"/>
<rect x="808.79" y="310.2" width="3.8" height="1.4" fill="#f23645"/>
<rect x="815.8" y="304.9" width="1" height="11.6" fill="#f23645"/>
<rect x="814.4" y="310.8" width="3.8" height="1.2" fill="#f23645"/>
<rect x="821.4" y="306.3" width="1" height="14.8" fill="#f23645"/>
<rect x="820" y="311.3" width="3.8" height="9" fill="#f23645"/>
<rect x="827" y="319.5" width="1" height="50.6" fill="#f23645"/>
<rect x="825.61" y="319.7" width="3.8" height="34.6" fill="#f23645"/>
<rect x="832.61" y="348.2" width="1" height="20.5" fill="#089981"/>
<rect x="831.21" y="352.8" width="3.8" height="1.2" fill="#089981"/>
<rect x="838.22" y="327.7" width="1" height="33.8" fill="#089981"/>
<rect x="836.82" y="338.4" width="3.8" height="15.6" fill="#089981"/>
<rect x="843.82" y="334.4" width="1" height="33.1" fill="#f23645"/>
<rect x="842.42" y="338.4" width="3.8" height="17.6" fill="#f23645"/>
<rect x="849.43" y="349" width="1" height="13.1" fill="#089981"/>
<rect x="848.03" y="349.3" width="3.8" height="6.7" fill="#089981"/>
<rect x="855.03" y="346.5" width="1" height="8.1" fill="#f23645"/>
<rect x="853.63" y="349.3" width="3.8" height="5.3" fill="#f23645"/>
<rect x="860.63" y="332.8" width="1" height="24.6" fill="#089981"/>
<rect x="859.24" y="342.5" width="3.8" height="12.5" fill="#089981"/>
<rect x="866.24" y="332.8" width="1" height="14.1" fill="#f23645"/>
<rect x="864.84" y="342.5" width="3.8" height="2.4" fill="#f23645"/>
<rect x="871.85" y="285.9" width="1" height="59" fill="#089981"/>
<rect x="870.45" y="299.4" width="3.8" height="45.5" fill="#089981"/>
<rect x="877.45" y="269.1" width="1" height="53.2" fill="#089981"/>
<rect x="876.05" y="277.2" width="3.8" height="22.2" fill="#089981"/>
<rect x="883.06" y="274.5" width="1" height="56.6" fill="#f23645"/>
<rect x="881.66" y="277.2" width="3.8" height="36.4" fill="#f23645"/>
<rect x="888.66" y="313" width="1" height="15.3" fill="#f23645"/>
<rect x="887.26" y="313" width="3.8" height="9.7" fill="#f23645"/>
<rect x="894.26" y="322.8" width="1" height="63.3" fill="#f23645"/>
<rect x="892.87" y="322.9" width="3.8" height="36.7" fill="#f23645"/>
</g>
<line x1="10" x2="952" y1="359.5" y2="359.5" stroke="#f23645" stroke-width="1" stroke-dasharray="1 1" opacity="0.6"/>
<clipPath id="pax"><rect x="953" y="26" width="61" height="558"/></clipPath>
<g font-size="11" fill="#131722" clip-path="url(#pax)">
<text x="960.7" y="45.3" font-size="11.8" textLength="45.4" lengthAdjust="spacingAndGlyphs">33.00000</text>
<text x="960.7" y="86.8" font-size="11.8" textLength="45.4" lengthAdjust="spacingAndGlyphs">32.50000</text>
<text x="960.7" y="128.3" font-size="11.8" textLength="45.4" lengthAdjust="spacingAndGlyphs">32.00000</text>
<text x="960.7" y="169.8" font-size="11.8" textLength="45.4" lengthAdjust="spacingAndGlyphs">31.50000</text>
<text x="960.7" y="211.3" font-size="11.8" textLength="45.4" lengthAdjust="spacingAndGlyphs">31.00000</text>
<text x="960.7" y="252.8" font-size="11.8" textLength="45.4" lengthAdjust="spacingAndGlyphs">30.50000</text>
<text x="960.7" y="294.3" font-size="11.8" textLength="45.4" lengthAdjust="spacingAndGlyphs">30.00000</text>
<text x="960.7" y="335.8" font-size="11.8" textLength="45.4" lengthAdjust="spacingAndGlyphs">29.50000</text>
<text x="960.7" y="377.3" font-size="11.8" textLength="45.4" lengthAdjust="spacingAndGlyphs">29.00000</text>
<text x="960.7" y="418.8" font-size="11.8" textLength="45.4" lengthAdjust="spacingAndGlyphs">28.50000</text>
<text x="960.7" y="460.3" font-size="11.8" textLength="45.4" lengthAdjust="spacingAndGlyphs">28.00000</text>
<text x="960.7" y="501.8" font-size="11.8" textLength="45.4" lengthAdjust="spacingAndGlyphs">27.50000</text>
<text x="960.7" y="543.3" font-size="11.8" textLength="45.4" lengthAdjust="spacingAndGlyphs">27.00000</text>
<text x="960.7" y="584.8" font-size="11.8" textLength="45.4" lengthAdjust="spacingAndGlyphs">26.50000</text>
</g>
<rect x="953" y="522.1" width="54.3" height="15.4" rx="2" fill="#ef5350"/>
<rect x="953" y="522.1" width="4" height="15.4" fill="#ef5350"/>
<text x="961.3" y="533.6" font-size="11" fill="#fff" textLength="41" lengthAdjust="spacingAndGlyphs">18.935 K</text>
<rect x="953" y="351.6" width="58.3" height="29.2" rx="2" fill="#f23645"/>
<rect x="953" y="351.6" width="4" height="29.2" fill="#f23645"/>
<text x="960.5" y="363.8" font-size="11" fill="#fff" textLength="46" lengthAdjust="spacingAndGlyphs">29.16600</text>
<text x="960.5" y="377" font-size="11" fill="#fff">48:15</text>
<g font-size="11" fill="#131722" text-anchor="middle">
<text x="37.2" y="601">13:00</text>
<text x="121.28" y="601">13</text>
<text x="205.35" y="601">13:00</text>
<text x="289.43" y="601">20</text>
<text x="373.5" y="601">13:00</text>
<text x="457.58" y="601">27</text>
<text x="541.65" y="601">13:00</text>
<text x="620.12" y="601" font-weight="bold">Jun</text>
<text x="709.8" y="601">13:00</text>
<text x="793.88" y="601">10</text>
<text x="894.76" y="601">13</text>
</g>
<g font-size="11" stroke-width="0.2">
<text y="44.1" fill="#131722" stroke="#131722">
<tspan x="17.5" textLength="25.4" lengthAdjust="spacingAndGlyphs">Silver</tspan> 
<tspan x="49.2" textLength="3.6" lengthAdjust="spacingAndGlyphs">/</tspan> 
<tspan x="58" textLength="19.3" lengthAdjust="spacingAndGlyphs">U.S.</tspan> 
<tspan x="82.6" textLength="29" lengthAdjust="spacingAndGlyphs">Dollar,</tspan> 
<tspan x="116.5" textLength="15.3" lengthAdjust="spacingAndGlyphs">4h,</tspan> 
<tspan x="137.1" textLength="33.3" lengthAdjust="spacingAndGlyphs">OANDA</tspan> 
</text>
<text x="178.8" y="44.1" textLength="52" lengthAdjust="spacingAndGlyphs"><tspan fill="#131722" stroke="#131722">O</tspan><tspan fill="#f23645" stroke="#f23645">29.60850</tspan></text>
<text x="238.6" y="44.1" textLength="51.5" lengthAdjust="spacingAndGlyphs"><tspan fill="#131722" stroke="#131722">H</tspan><tspan fill="#f23645" stroke="#f23645">29.61000</tspan></text>
<text x="298" y="44.1" textLength="48.4" lengthAdjust="spacingAndGlyphs"><tspan fill="#131722" stroke="#131722">L</tspan><tspan fill="#f23645" stroke="#f23645">28.84700</tspan></text>
<text x="355.5" y="44.1" textLength="51" lengthAdjust="spacingAndGlyphs"><tspan fill="#131722" stroke="#131722">C</tspan><tspan fill="#f23645" stroke="#f23645">29.16600</tspan></text>
<text x="414.7" y="44.1" fill="#f23645" stroke="#f23645" textLength="89.7" lengthAdjust="spacingAndGlyphs">−0.44250 (−1.49%)</text>
<text x="17.4" y="59.5" fill="#131722" stroke="#131722">Vol</text>
<text x="39.9" y="59.5" fill="#f23645" stroke="#f23645" textLength="40.4" lengthAdjust="spacingAndGlyphs">18.935 K</text>
</g>
<g>
<circle cx="894.25" cy="571.25" r="8.8" fill="#fff" stroke="#9c27b0" stroke-width="1.5"/>
<path d="M890.4 571.9 L896.4 567.0 L895.6 572.4 Z M893.4 572.0 L895.3 572.0 L892.2 577.0 L890.9 576.6 Z" fill="#9c27b0"/>
<circle cx="905.6" cy="571.5" r="9.4" fill="#fff" stroke="#f23645" stroke-width="1.6"/>
<clipPath id="flag"><circle cx="905.5" cy="571.4" r="7.6"/></clipPath>
<g clip-path="url(#flag)">
<rect x="897" y="563" width="18" height="18" fill="#fff"/>
<rect x="897" y="565.2" width="18" height="2.2" fill="#f0444c"/>
<rect x="897" y="570.4" width="18" height="2.6" fill="#f0444c"/>
<rect x="897" y="576.1" width="18" height="2.4" fill="#f0444c"/>
<rect x="897" y="563" width="9.9" height="10.8" fill="#3a8ef0"/>
<rect x="899.8" y="566.2" width="0.9" height="0.9" fill="#cfe3fb"/>
<rect x="902.0" y="566.2" width="0.9" height="0.9" fill="#cfe3fb"/>
<rect x="904.2" y="566.2" width="0.9" height="0.9" fill="#cfe3fb"/>
<rect x="899.8" y="568.6" width="0.9" height="0.9" fill="#cfe3fb"/>
<rect x="902.0" y="568.6" width="0.9" height="0.9" fill="#cfe3fb"/>
<rect x="904.2" y="568.6" width="0.9" height="0.9" fill="#cfe3fb"/>
<rect x="899.8" y="571.0" width="0.9" height="0.9" fill="#cfe3fb"/>
<rect x="902.0" y="571.0" width="0.9" height="0.9" fill="#cfe3fb"/>
<rect x="904.2" y="571.0" width="0.9" height="0.9" fill="#cfe3fb"/>
</g>
</g>
<g transform="translate(9.6,619.7) scale(0.51)" fill="#131722"><path d="M14 22H7V11H0V4h14v18zM28 22h-8l7.5-18h8L28 22z"/><circle cx="20" cy="8" r="4"/></g>
<text x="31.6" y="630.9" font-size="12" fill="#2a2e39" textLength="65" lengthAdjust="spacingAndGlyphs">TradingView</text>
</g>
</svg></body></html>
